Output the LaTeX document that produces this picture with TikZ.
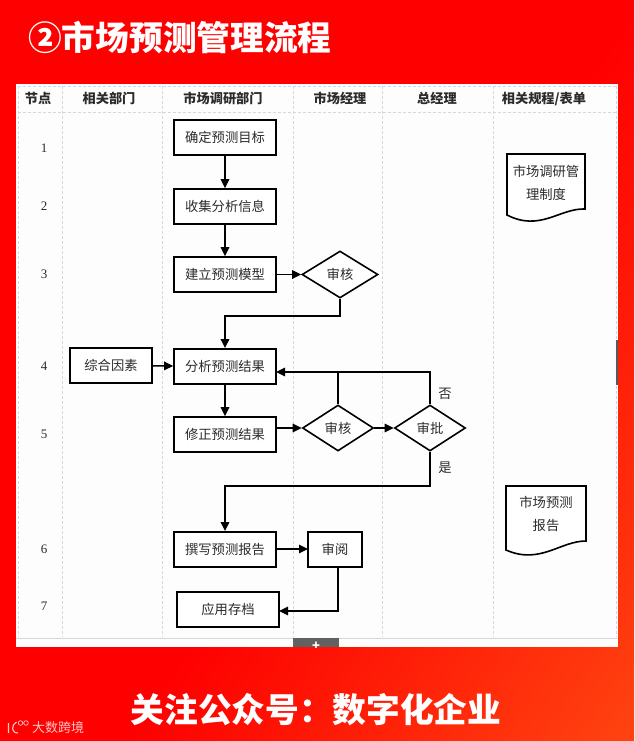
\documentclass[tikz,border=0pt]{standalone}
\usepackage{fontspec}
\setmainfont{Noto Sans CJK SC}
\newfontfamily\numfont{Liberation Serif}
\usetikzlibrary{shapes.geometric,arrows.meta}
\definecolor{bgred}{HTML}{FE0000}
\definecolor{bgorange}{HTML}{FF4210}
\definecolor{gridc}{HTML}{D9D5DF}
\definecolor{inkc}{HTML}{2B2B2B}
\definecolor{pagec}{HTML}{FDFDFE}
\pgfdeclarehorizontalshading{bgshade}{100bp}{color(0bp)=(bgred); color(54bp)=(bgred); color(84bp)=(bgorange); color(100bp)=(bgorange)}
\tikzset{
  txt/.style={font=\fontsize{13.3}{16}\selectfont,text=inkc,inner sep=0pt},
  hdr/.style={font=\fontsize{13.2}{15}\selectfont\bfseries,text=inkc,inner sep=0pt,anchor=base},
  num/.style={font=\fontsize{13}{14}\selectfont\numfont,text=inkc,inner sep=0pt},
  banner/.style={font=\fontsize{33.7}{38}\selectfont\bfseries,text=white,inner sep=0pt},
  procbox/.style={draw=black,line width=1.7pt,fill=white,minimum width=102pt,minimum height=35pt,txt},
  decide/.style={draw=black,line width=1.6pt,fill=white,diamond,aspect=1.55,inner sep=0pt,txt},
  link/.style={draw=black,line width=1.6pt,-{Triangle[length=9pt,width=8.5pt]}},
  plain/.style={draw=black,line width=1.6pt},
  grid/.style={draw=gridc,line width=.9pt,densely dashed},
  docshape/.style={draw=black,line width=1.6pt,fill=white},
  wmark/.style={draw=white!78!red,line width=1.1pt}
}
\begin{document}
\begin{tikzpicture}[x=1pt,y=-1pt]
\useasboundingbox (0,0) rectangle (634,741);
\shade[shading=bgshade,shading angle=-35] (0,0) rectangle (634,741);
\fill[pagec] (16,84) rectangle (618,647);
% grid
\draw[grid] (18,86) -- (616,86);
\draw[grid] (18,112) -- (616,112);
\foreach \gx in {18,62,162,293,382,493,616}{\draw[grid] (\gx,86) -- (\gx,637);}
\draw[draw=gridc,line width=1pt] (16,638) -- (618,638);
\fill[black!65] (615.5,340) rectangle (618,385);
% plus tab
\fill[black!62] (293,638) rectangle (339,647);
\begin{scope}
\clip (293,638) rectangle (339,647);
\node[font=\fontsize{13}{13}\selectfont\bfseries,text=white,inner sep=0pt] (plus) at (316,646) {+};
\end{scope}
% headers
\node[hdr] (h1) at (38,103) {节点};
\node[hdr] (h2) at (109,103) {相关部门};
\node[hdr] (h3) at (223,103) {市场调研部门};
\node[hdr] (h4) at (340,103) {市场经理};
\node[hdr] (h5) at (437,103) {总经理};
\node[hdr] (h6) at (544,103) {相关规程/表单};
% numbers
\node[num] (n1) at (44,148) {1};
\node[num] (n2) at (44,206) {2};
\node[num] (n3) at (44,274) {3};
\node[num] (n4) at (44,366) {4};
\node[num] (n5) at (44,434) {5};
\node[num] (n6) at (44,549) {6};
\node[num] (n7) at (44,606) {7};
% process boxes
\node[procbox] (a1) at (225,137.5) {确定预测目标};
\node[procbox] (a2) at (225,206.5) {收集分析信息};
\node[procbox] (a3) at (225,274.5) {建立预测模型};
\node[procbox] (a4) at (225,366.4) {分析预测结果};
\node[procbox] (a5) at (225,434.5) {修正预测结果};
\node[procbox] (a6) at (225,549.4) {撰写预测报告};
\node[procbox] (a7) at (228,609.5) {应用存档};
\node[procbox,minimum width=82pt] (f1) at (111,365.5) {综合因素};
\node[procbox,minimum width=54pt] (r1) at (335,549.4) {审阅};
% decisions
\node[decide,minimum width=76pt,minimum height=47pt] (d1) at (340,274.5) {审核};
\node[decide,minimum width=71pt,minimum height=46pt] (d2) at (338,428) {审核};
\node[decide,minimum width=71pt,minimum height=46pt] (d3) at (430,428) {审批};
\node[txt] (no) at (445,394) {否};
\node[txt] (yes) at (445,468) {是};
% documents
\draw[docshape] (507,154) -- (585,154) -- (585,209) .. controls (560,208) and (540,232) .. (507,215) -- cycle;
\node[txt,align=center,font=\fontsize{13.3}{23}\selectfont] (doc1) at (546,183) {市场调研管\\理制度};
\draw[docshape] (506,486) -- (586,486) -- (586,541) .. controls (560,541) and (540,565) .. (506,550) -- cycle;
\node[txt,align=center,font=\fontsize{13.3}{23}\selectfont] (doc2) at (546,514) {市场预测\\报告};
% connectors
\draw[link] (a1) -- (a2);
\draw[link] (a2) -- (a3);
\draw[link] (a3) -- (d1);
\coordinate (c1) at (225,316);
\draw[link] (d1.south) |- (c1) -- (a4.north);
\draw[link] (f1) -- (a4);
\draw[link] (a4) -- (a5);
\coordinate (c2) at (276,372);
\coordinate (c2b) at (338,372);
\draw[link] (d3.north) |- (c2);
\draw[plain] (d2.north) -- (c2b);
\coordinate (c3) at (276,428);
\draw[link] (c3) -- (d2.west);
\draw[link] (d2.east) -- (d3.west);
\coordinate (c4) at (225,486);
\draw[link] (d3.south) |- (c4) -- (a6.north);
\coordinate (c7) at (276,549);
\coordinate (c8) at (308,549);
\draw[link] (c7) -- (c8);
\coordinate (c5) at (338,566.5);
\coordinate (c6) at (279,611);
\draw[link] (c5) |- (c6);
% banners
\node[banner,anchor=west] (title) at (28,38) {②市场预测管理流程};
\node[banner] (foot) at (316,710) {关注公众号：数字化企业};
% watermark
\node[font=\fontsize{13}{14}\selectfont,text=white!78!red,inner sep=0pt] (wm) at (58,728) {大数跨境};
\draw[wmark] (8.5,723) -- (8.5,733) (16.5,722) .. controls (11,725) and (11,733) .. (18,733);
\draw[wmark,line width=.7pt] (20.5,723) circle (2.3) (26,723) circle (2.3);
\end{tikzpicture}
\end{document}
